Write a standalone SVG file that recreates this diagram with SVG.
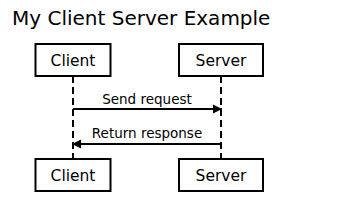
<svg xmlns="http://www.w3.org/2000/svg" width="359" height="200" viewBox="0 0 359 200">
<style>
text{font-family:"DejaVu Sans",sans-serif;fill:#000}
.title{font-size:20px}
.actor rect{fill:#fff;stroke:#000;stroke-width:2}
.actor text{font-size:15.5px;text-anchor:middle}
.life{stroke:#000;stroke-width:2;stroke-dasharray:7,4;fill:none}
.msg{stroke:#000;stroke-width:2;fill:none}
.lbl{font-size:13.5px;text-anchor:middle}
</style>
<defs>
<marker id="ah" viewBox="0 0 10 10" refX="10" refY="5" markerWidth="9" markerHeight="10" orient="auto" markerUnits="userSpaceOnUse">
<path d="M0,0 L10,5 L0,10 z" fill="#000"/>
</marker>
</defs>
<text class="title" x="12" y="25">My Client Server Example</text>
<g id="connectors">
<line class="life" x1="73" y1="76" x2="73" y2="159"/>
<line class="life" x1="221" y1="76" x2="221" y2="159"/>
<line class="msg" x1="73" y1="109" x2="222" y2="109" marker-end="url(#ah)"/>
<text class="lbl" x="147" y="104">Send request</text>
<line class="msg" x1="221" y1="144" x2="72" y2="144" marker-end="url(#ah)"/>
<text class="lbl" x="147" y="138">Return response</text>
</g>
<g id="client-top" class="actor"><rect x="35.5" y="44" width="75" height="32"/><text x="73" y="66">Client</text></g>
<g id="server-top" class="actor"><rect x="179" y="44" width="84" height="32"/><text x="221" y="66">Server</text></g>
<g id="client-bottom" class="actor"><rect x="35.5" y="159" width="75" height="32"/><text x="73" y="181">Client</text></g>
<g id="server-bottom" class="actor"><rect x="179" y="159" width="84" height="32"/><text x="221" y="181">Server</text></g>
</svg>
